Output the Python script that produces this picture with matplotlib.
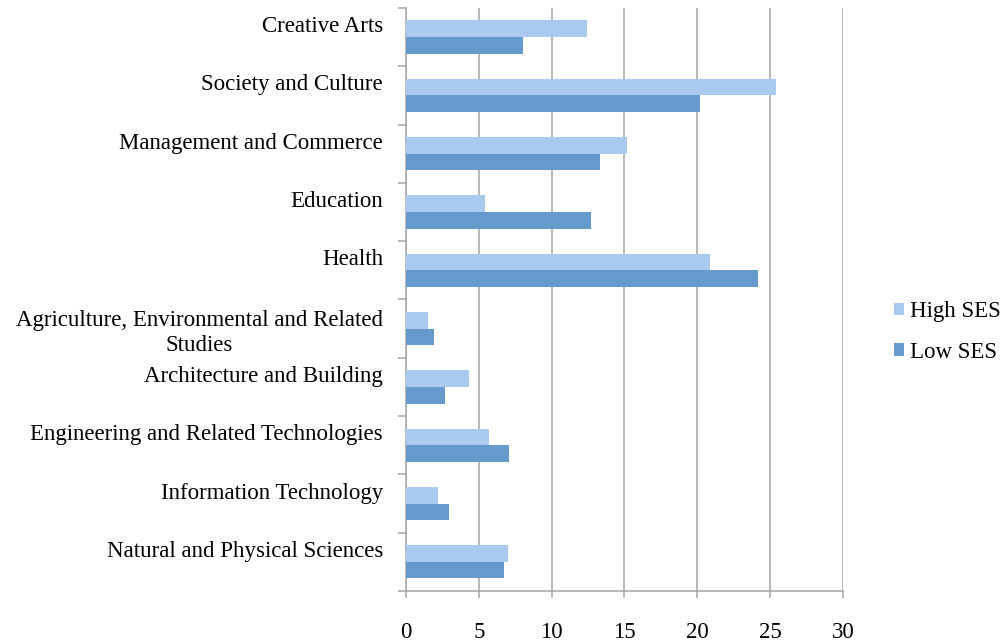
import numpy as np
import matplotlib.pyplot as plt
from matplotlib.transforms import ScaledTranslation

plt.rcParams['font.family'] = ['Liberation Serif', 'DejaVu Serif']

# fields of study, listed top to bottom
fields = [
    "Creative Arts",
    "Society and Culture",
    "Management and Commerce",
    "Education",
    "Health",
    "Agriculture, Environmental and Related\nStudies",
    "Architecture and Building",
    "Engineering and Related Technologies",
    "Information Technology",
    "Natural and Physical Sciences",
]
high_ses = [12.4, 25.4, 15.2, 5.4, 20.9, 1.5, 4.3, 5.7, 2.2, 7.0]
low_ses = [8.0, 20.2, 13.3, 12.7, 24.2, 1.9, 2.7, 7.1, 2.95, 6.7]
x_ticks = [0, 5, 10, 15, 20, 25, 30]

c_high = "#A9CAEE"
c_low = "#6699CC"
grey = "#A6A6A6"
fs = 16.5

fig = plt.figure(figsize=(10.04, 6.43), dpi=100)
ax = fig.add_axes([0.4044, 0.0809, 0.4352, 0.9067])

y = np.arange(len(fields))
w = 1 / 3.5
ax.barh(y - w / 2, high_ses, height=w, color=c_high, label="High SES", zorder=3)
ax.barh(y + w / 2, low_ses, height=w, color=c_low, label="Low SES", zorder=3)

ax.set_xlim(0, 30)
ax.set_ylim(len(fields) - 0.5, -0.5)
ax.set_xticks(x_ticks)
ax.set_xticklabels([str(t) for t in x_ticks], fontsize=fs)
ax.grid(axis="x", color=grey, linewidth=1.1, zorder=0)

ax.set_yticks(y)
ax.set_yticklabels(fields, fontsize=fs, multialignment="center", linespacing=1.25)
ax.set_yticks(np.arange(len(fields) + 1) - 0.5, minor=True)
ax.tick_params(axis="y", which="major", length=0, pad=16.5)
ax.tick_params(axis="y", which="minor", length=6, width=1.1, color=grey)
ax.tick_params(axis="x", length=5, width=1.1, color=grey, pad=17)

# single-line labels sit a bit above the bar pair
shift = ScaledTranslation(0, 13 / 100, fig.dpi_scale_trans)
for lab in ax.get_yticklabels():
    if "\n" not in lab.get_text():
        lab.set_transform(lab.get_transform() + shift)

for side in ["top", "right"]:
    ax.spines[side].set_visible(False)
for side in ["left", "bottom"]:
    ax.spines[side].set_color(grey)
    ax.spines[side].set_linewidth(1.1)

fig.legend(loc="center left", bbox_to_anchor=(0.870, 0.484), frameon=False,
           fontsize=fs, handlelength=0.45, handleheight=0.45, handletextpad=0.25,
           labelspacing=0.85)

fig.savefig("out.png", dpi=100)
